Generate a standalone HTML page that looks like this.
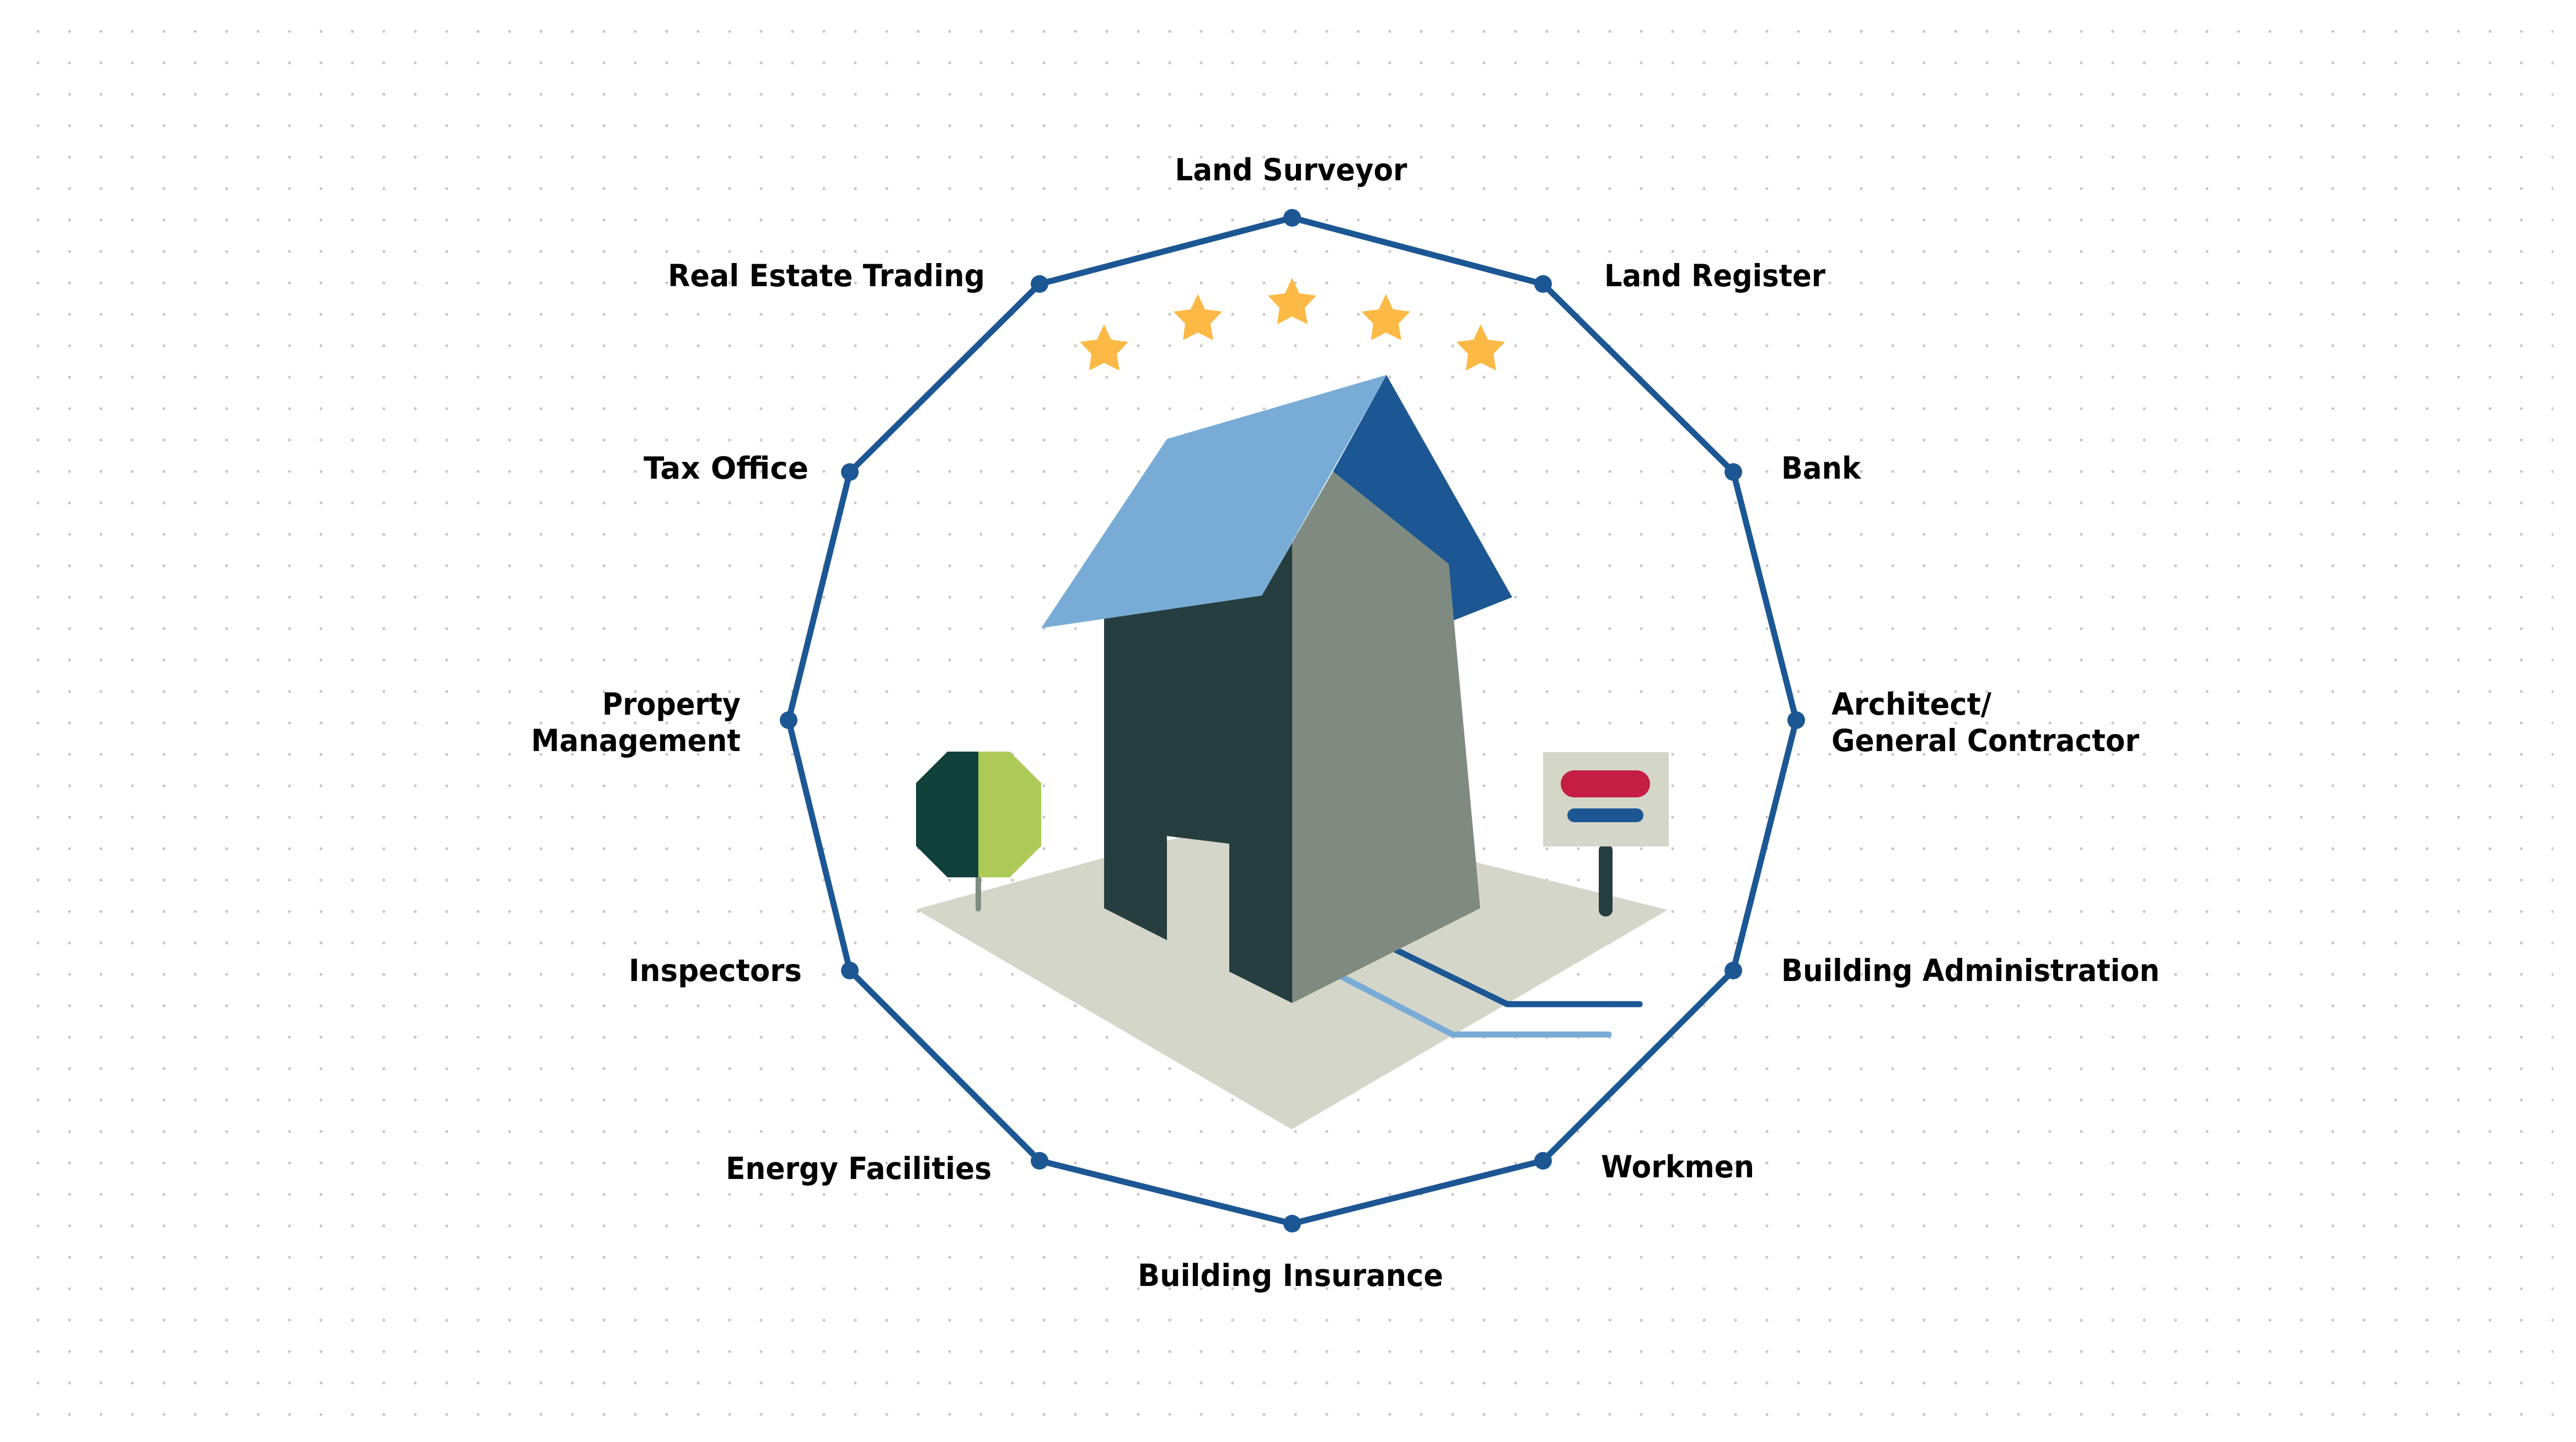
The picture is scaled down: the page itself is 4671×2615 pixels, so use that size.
<!DOCTYPE html>
<html><head><meta charset="utf-8"><style>html,body{margin:0;padding:0;background:#fff}svg{display:block}</style></head>
<body>
<svg xmlns="http://www.w3.org/2000/svg" width="4671" height="2615" viewBox="0 0 4671 2615">
<defs>
<pattern id="d" patternUnits="userSpaceOnUse" x="40.5" y="28.5" width="57" height="57">
<circle cx="28.5" cy="28.5" r="2.6" fill="#c6c6c6"/>
</pattern>
<polygon id="st" points="0,0 13,28 44,32 23,54 28,84 0,70 -27,84 -23,54 -44,32 -13,28" fill="#fdb945"/>
</defs>
<rect x="40" y="28" width="4590" height="2560" fill="url(#d)"/>

<polygon points="2343,395 2798,515 3143,856 3257,1306 3143,1760 2798,2105 2343,2219 1885,2105 1541,1760 1430,1306 1541,856 1885,515" fill="none" stroke="#1c5794" stroke-width="11" stroke-linejoin="round"/>
<g fill="#1c5794">
<circle cx="2343" cy="395" r="16"/><circle cx="2798" cy="515" r="16"/><circle cx="3143" cy="856" r="16"/><circle cx="3257" cy="1306" r="16"/><circle cx="3143" cy="1760" r="16"/><circle cx="2798" cy="2105" r="16"/><circle cx="2343" cy="2219" r="16"/><circle cx="1885" cy="2105" r="16"/><circle cx="1541" cy="1760" r="16"/><circle cx="1430" cy="1306" r="16"/><circle cx="1541" cy="856" r="16"/><circle cx="1885" cy="515" r="16"/>
</g>

<use href="#st" x="2002" y="588"/>
<use href="#st" x="2172" y="533"/>
<use href="#st" x="2343" y="504"/>
<use href="#st" x="2513" y="533"/>
<use href="#st" x="2685" y="588"/>

<polygon points="1661,1649 2308,1472 3024,1650 2342,2048" fill="#d5d6ca"/>
<polyline points="2450,1683 2733,1821 2973,1821" fill="none" stroke="#1c5794" stroke-width="11" stroke-linecap="round" stroke-linejoin="round"/>
<polyline points="2350,1728 2634,1876 2917,1876" fill="none" stroke="#78acd6" stroke-width="11" stroke-linecap="round" stroke-linejoin="round"/>

<polygon points="2514,680 2742,1083 2636,1125 2627,1023 2417,855" fill="#1c5794"/>
<polygon points="2417,855 2627,1023 2684,1647 2343,1819 2343,984" fill="#7f8b80"/>
<polygon points="2002,1122 2288,1080 2343,984 2343,1819 2229,1762 2229,1530 2116,1516 2116,1705 2002,1647" fill="#263e3f"/>
<polygon points="1888,1139 2116,796 2514,680 2288,1080" fill="#78acd6"/>

<rect x="1769" y="1585" width="10" height="68" rx="5" fill="#7f8c80"/>
<polygon points="1774,1363 1718,1363 1661,1420 1661,1534 1718,1591 1774,1591" fill="#10413a"/>
<polygon points="1774,1363 1831,1363 1888,1420 1888,1534 1831,1591 1774,1591" fill="#adc957"/>

<rect x="2899" y="1530" width="25" height="132" rx="12" fill="#263e3f"/>
<rect x="2798" y="1364" width="228" height="171" fill="#d5d6ca"/>
<rect x="2830" y="1397" width="162" height="49" rx="24.5" fill="#c41f43"/>
<rect x="2842" y="1466" width="138" height="25" rx="12.5" fill="#1c5794"/>

<g font-family="'DejaVu Sans','Liberation Sans',sans-serif" font-weight="bold" font-size="55" fill="#000">
<text x="2341" y="327" text-anchor="middle" textLength="421" lengthAdjust="spacingAndGlyphs">Land Surveyor</text>
<text x="2909" y="519" textLength="401" lengthAdjust="spacingAndGlyphs">Land Register</text>
<text x="3230" y="868" textLength="144" lengthAdjust="spacingAndGlyphs">Bank</text>
<text x="3321" y="1296" textLength="290" lengthAdjust="spacingAndGlyphs">Architect/</text>
<text x="3321" y="1362" textLength="558" lengthAdjust="spacingAndGlyphs">General Contractor</text>
<text x="3230" y="1779" textLength="686" lengthAdjust="spacingAndGlyphs">Building Administration</text>
<text x="2903" y="2135" textLength="278" lengthAdjust="spacingAndGlyphs">Workmen</text>
<text x="2340" y="2332" text-anchor="middle" textLength="554" lengthAdjust="spacingAndGlyphs">Building Insurance</text>
<text x="1798" y="2138" text-anchor="end" textLength="482" lengthAdjust="spacingAndGlyphs">Energy Facilities</text>
<text x="1454" y="1779" text-anchor="end" textLength="314" lengthAdjust="spacingAndGlyphs">Inspectors</text>
<text x="1343" y="1296" text-anchor="end" textLength="251" lengthAdjust="spacingAndGlyphs">Property</text>
<text x="1343" y="1362" text-anchor="end" textLength="380" lengthAdjust="spacingAndGlyphs">Management</text>
<text x="1466" y="868" text-anchor="end" textLength="299" lengthAdjust="spacingAndGlyphs">Tax Office</text>
<text x="1786" y="519" text-anchor="end" textLength="575" lengthAdjust="spacingAndGlyphs">Real Estate Trading</text>
</g>
</svg>
</body></html>
